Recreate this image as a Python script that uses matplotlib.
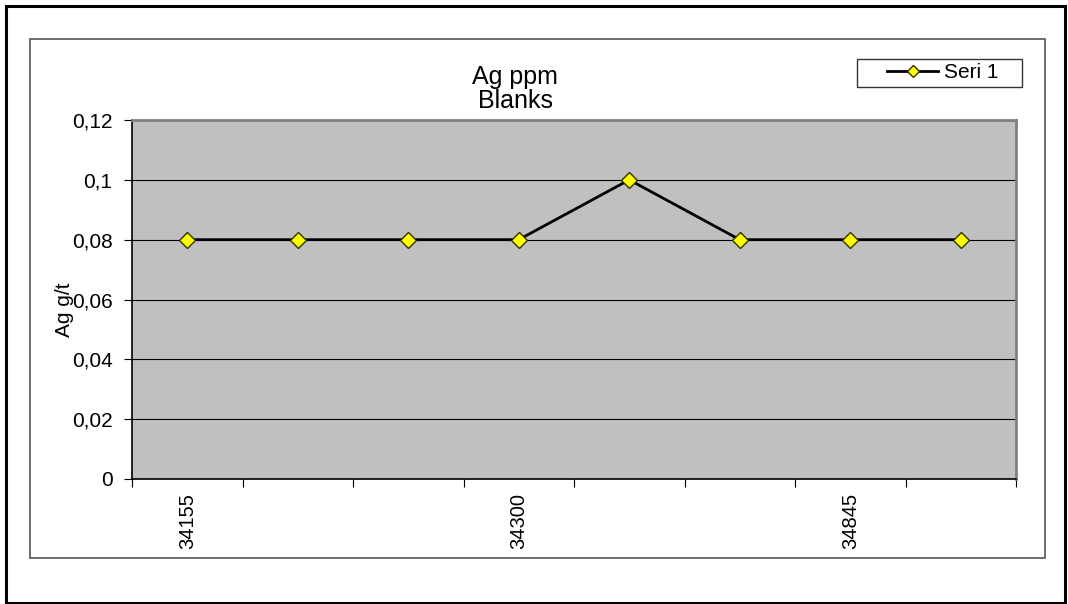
import matplotlib
matplotlib.use('Agg')
import matplotlib.pyplot as plt
from matplotlib.patches import Rectangle
from matplotlib.ticker import FuncFormatter

# Daten
kategorien = ['34155', '', '', '34300', '', '', '34845', '']
ag_werte = [0.08, 0.08, 0.08, 0.08, 0.10, 0.08, 0.08, 0.08]
y_ticks = [0, 0.02, 0.04, 0.06, 0.08, 0.10, 0.12]
titel = 'Ag ppm\nBlanks'
serie = 'Seri 1'
y_label = 'Ag g/t'

plt.rcParams['font.family'] = ['Liberation Sans', 'DejaVu Sans']
fs = 15

fig = plt.figure(figsize=(10.68, 6.04), dpi=100)
W, H = 1068., 604.

# Aussenrahmen + Chartrahmen + Legendenrahmen
fig.patches.append(Rectangle((6/W, 1-603/H), 1059/W, 597/H, transform=fig.transFigure,
                             fill=False, ec='black', lw=2.2))
fig.patches.append(Rectangle((30/W, 1-558/H), 1015/W, 519/H, transform=fig.transFigure,
                             fill=False, ec='#555555', lw=1.2))
fig.patches.append(Rectangle((857/W, 1-87/H), 165/W, 28/H, transform=fig.transFigure,
                             fill=False, ec='#333333', lw=1.0))

ax = fig.add_axes([132/W, 1-479/H, 884/W, 359/H])
ax.set_facecolor('#C0C0C0')
x = list(range(len(ag_werte)))
ax.plot(x, ag_werte, '-', color='black', lw=2, marker='D', ms=8,
        mfc='#FFFF00', mec='#333300', mew=1, label=serie, zorder=3)

ax.set_xlim(-0.5, len(ag_werte) - 0.5)
ax.set_ylim(0, 0.12)
ax.set_yticks(y_ticks)
ax.yaxis.set_major_formatter(FuncFormatter(lambda v, p: ('%g' % round(v, 2)).replace('.', ',')))
ax.grid(axis='y', color='black', lw=0.8)
ax.set_axisbelow(True)

# Kategorie-Grenzen als Ticks, Labels in der Mitte
ax.set_xticks([i - 0.5 for i in range(len(ag_werte) + 1)])
ax.set_xticklabels([])
ax.set_xticks(x, minor=True)
ax.set_xticklabels(kategorien, minor=True, rotation=90, fontsize=14.5)
ax.tick_params(axis='x', which='minor', length=0, pad=10)
ax.tick_params(axis='x', which='major', length=6, direction='out', color='black')
ax.tick_params(axis='y', length=6, direction='out', labelsize=fs, pad=8)

for s in ['top', 'right']:
    ax.spines[s].set_color('#808080')
    ax.spines[s].set_linewidth(2)
for s in ['left', 'bottom']:
    ax.spines[s].set_color('black')
    ax.spines[s].set_linewidth(1.2)

fig.text(515/W, 1-89/H, titel, ha='center', va='center', fontsize=18, linespacing=1.0)
fig.text(65/W, 1-310/H, y_label, rotation=90, ha='center', va='center', fontsize=fs)

leg = ax.legend(loc='center left', bbox_to_anchor=(887/W, 1-73/H), bbox_transform=fig.transFigure,
                fontsize=fs, frameon=False, borderpad=0, markerscale=0.75,
                handlelength=2.45, handletextpad=0.3, borderaxespad=0)

fig.savefig('out.png', dpi=100)
